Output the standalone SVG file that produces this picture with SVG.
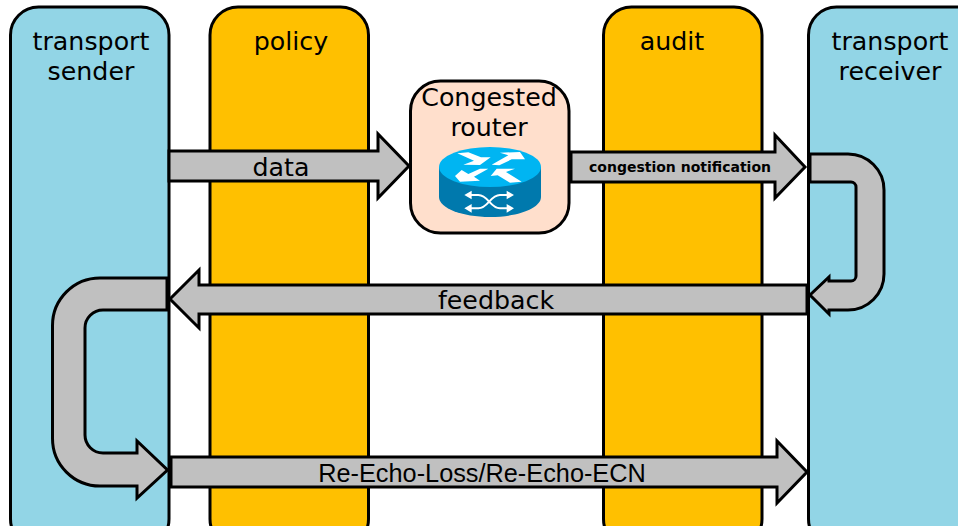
<svg xmlns="http://www.w3.org/2000/svg" width="958" height="526" viewBox="0 0 958 526">
<style>
text{font-family:"DejaVu Sans",sans-serif;fill:#000;text-anchor:middle}
.col{stroke:#000;stroke-width:3}
.blue{fill:#92d5e6}
.gold{fill:#ffc000}
.arr{fill:#c0c0c0;stroke:#000;stroke-width:3;stroke-linejoin:miter}
.t{font-size:25.300px}
</style>
<rect width="958" height="526" fill="#fff"/>
<g id="transport-sender"><rect class="col blue" x="10.500" y="7" width="158.500" height="540" rx="28"/><text class="t" x="91" y="50">transport</text><text class="t" x="91" y="80">sender</text></g>
<g id="policy"><rect class="col gold" x="210" y="7" width="158.500" height="540" rx="28"/><text class="t" x="291" y="50">policy</text></g>
<g id="audit"><rect class="col gold" x="603.500" y="7" width="158.500" height="540" rx="28"/><text class="t" x="672" y="50">audit</text></g>
<g id="transport-receiver"><rect class="col blue" x="808.500" y="7" width="180" height="540" rx="28"/><text class="t" x="890" y="50">transport</text><text class="t" x="890" y="80">receiver</text></g>
<g id="connectors">
<g id="data"><path class="arr" d="M169 151H378V134L409 166L378 198V181H169Z"/><text x="281" y="176" font-size="25.300">data</text></g>
<g id="congestion-notification"><path class="arr" d="M571 152H775V135L805 167L775 198V182H571Z"/><text x="680" y="172" font-size="14" font-weight="700">congestion notification</text></g>
<g id="loop-right"><path class="arr" d="M810 154H848A36 36 0 0 1 884 190V274A36 36 0 0 1 848 310H829V314L810 295L829 277V281H851A5 5 0 0 0 856 276V187A5 5 0 0 0 851 182H810Z"/></g>
<g id="feedback"><path class="arr" d="M807 285H199V270L170 299L199 328V314H807Z"/><text x="496" y="309" font-size="25.300">feedback</text></g>
<g id="loop-left"><path class="arr" d="M167 278H100A47.500 47.500 0 0 0 52.500 325.500V438.500A47.500 47.500 0 0 0 100 486H137V498L167.500 470L137 441V453H103A18 18 0 0 1 85 435V328A18 18 0 0 1 103 310H167Z"/></g>
<g id="re-echo"><path class="arr" d="M171 457H777V441L807 472L777 503V487H171Z"/><text x="482" y="482" font-size="25.300" style="font-family:'Liberation Sans',Arial,sans-serif">Re-Echo-Loss/Re-Echo-ECN</text></g>
</g>
<g id="congested-router"><rect x="410.500" y="81" width="158.500" height="152" rx="30" fill="#ffdfcc" stroke="#000" stroke-width="3"/>
<text class="t" x="489" y="106">Congested</text><text class="t" x="489" y="136">router</text>
<path d="M439 167V197C439 208 462 217 490 217C518 217 541 208 541 197V167Z" fill="#0079ad"/>
<ellipse cx="490" cy="167" rx="51" ry="20" fill="#00b5f2"/>
<g transform="translate(400 70) scale(.33333)">
<g fill="#fff">
<path d="M172 250L205 247L243 262L272 262L240 285L190 284L222 272Z"/>
<path d="M275 284L325 256L300 248L360 246L375 268L335 268L298 286Z"/>
<path d="M165 318L185 300L205 312L240 296L265 296L222 320L240 332L180 335Z"/>
<path d="M272 318L290 296L345 296L318 306L365 335L330 338L293 316Z"/>
<path d="M193 375L215 362V388ZM193 415L215 402V428ZM342 375L320 362V388ZM342 415L320 402V428Z"/>
</g>
<path d="M210 375H235C265 375 270 415 300 415H325M210 415H235C265 415 270 375 300 375H325" fill="none" stroke="#fff" stroke-width="6"/>
</g>
</g>
</svg>
